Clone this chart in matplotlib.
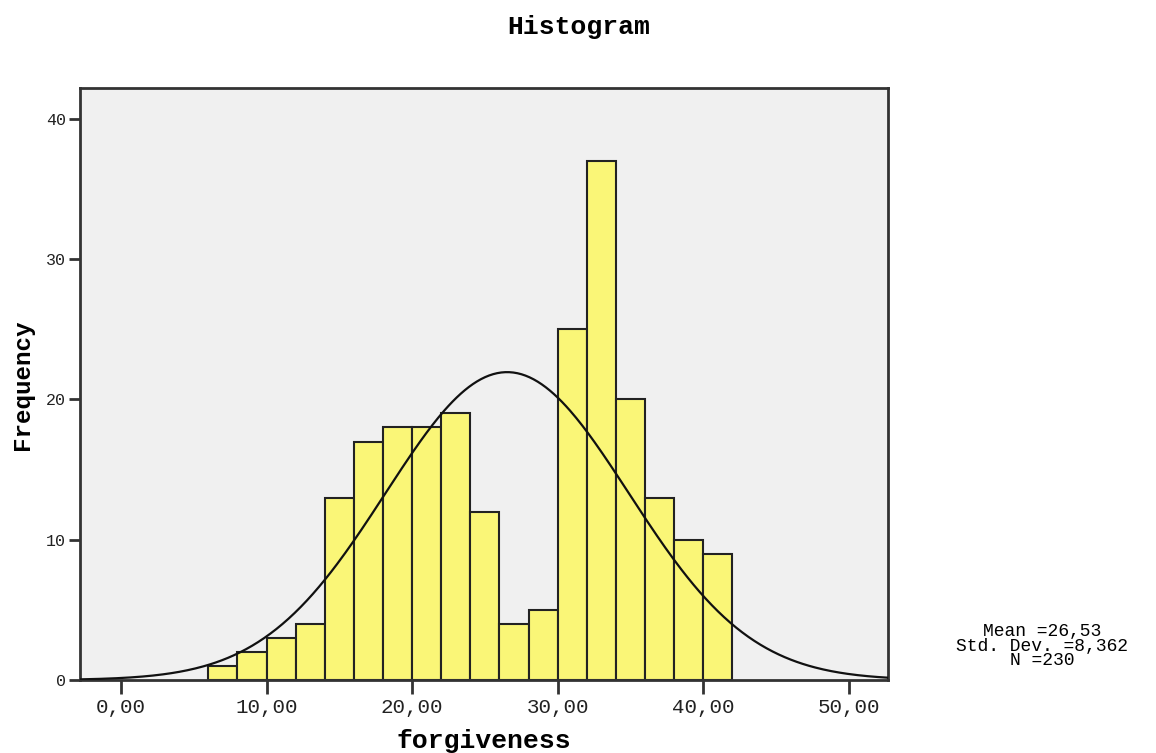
import numpy as np
import matplotlib
matplotlib.use("Agg")
import matplotlib.pyplot as plt
from matplotlib.ticker import FuncFormatter

# Datos del histograma (bins de ancho 2)
bin_edges = [6, 8, 10, 12, 14, 16, 18, 20, 22, 24, 26, 28, 30, 32, 34, 36, 38, 40, 42]
frecuencias = [1, 2, 3, 4, 13, 17, 18, 18, 19, 12, 4, 5, 25, 37, 20, 13, 10, 9]
media = 26.53
desv = 8.362
n = 230

x_ticks = [0, 10, 20, 30, 40, 50]
y_ticks = [0, 10, 20, 30, 40]

fuente = "Liberation Mono"

fig = plt.figure(figsize=(11.56, 7.53), dpi=100)
ax = fig.add_axes([80 / 1156, 73 / 753, 808 / 1156, 592 / 753])
ax.set_facecolor("#f0f0f0")

anchos = np.diff(bin_edges)
ax.bar(bin_edges[:-1], frecuencias, width=anchos, align="edge",
       color="#faf677", edgecolor="#222222", linewidth=1.5, zorder=2)

# Curva normal escalada
xs = np.linspace(-2.82, 52.7, 400)
ancho_bin = anchos[0]
ys = n * ancho_bin / (desv * np.sqrt(2 * np.pi)) * np.exp(-0.5 * ((xs - media) / desv) ** 2)
ax.plot(xs, ys, color="#111111", linewidth=1.6, zorder=3)

ax.set_xlim(-2.82, 52.7)
ax.set_ylim(0, 42.2)
ax.set_xticks(x_ticks)
ax.set_yticks(y_ticks)
ax.xaxis.set_major_formatter(FuncFormatter(lambda v, p: f"{v:.2f}".replace(".", ",")))
ax.yaxis.set_major_formatter(FuncFormatter(lambda v, p: f"{int(v)}"))

for s in ax.spines.values():
    s.set_linewidth(2)
    s.set_color("#333333")

ax.tick_params(axis="x", direction="out", length=10, width=2, color="#333333",
               labelsize=15, labelcolor="#222222", pad=3)
ax.tick_params(axis="y", direction="out", length=8, width=2, color="#333333",
               labelsize=12, labelcolor="#222222", pad=2)
for lab in ax.get_xticklabels() + ax.get_yticklabels():
    lab.set_family(fuente)

fig.text(579 / 1156, 1 - 27 / 753, "Histogram", family=fuente, fontweight="bold",
         fontsize=19, ha="center", va="center")
fig.text(484 / 1156, 1 - 741 / 753, "forgiveness", family=fuente, fontweight="bold",
         fontsize=19, ha="center", va="center")
fig.text(22 / 1156, 1 - 385 / 753, "Frequency", family=fuente, fontweight="bold",
         fontsize=17.5, ha="center", va="center", rotation=90)

stats = ["Mean =26,53", "Std. Dev. =8,362", "N =230"]
fig.text(1042 / 1156, 1 - 646 / 753, "\n".join(stats), family=fuente,
         fontsize=13, ha="center", va="center", multialignment="center",
         linespacing=0.78)

fig.savefig("out.png", dpi=100)
